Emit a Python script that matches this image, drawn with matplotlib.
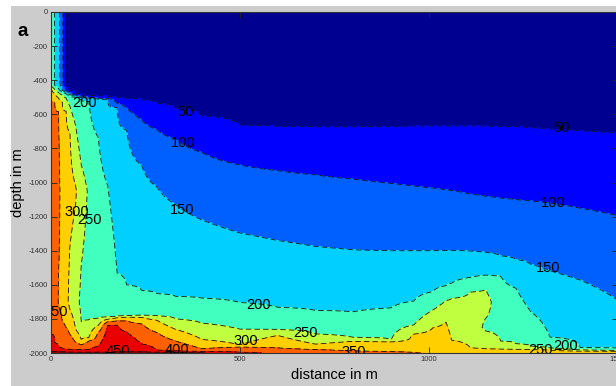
import numpy as np
import matplotlib
matplotlib.use("Agg")
import matplotlib.pyplot as plt
from matplotlib.patches import Rectangle

nan = float("nan")

# ---- data (depths in m, positive downward) ----
distance_m = [0, 10, 20, 30, 40, 50, 65, 80, 100, 125, 150, 175, 200, 240, 280, 330, 400,
              500, 600, 700, 800, 900, 960, 1010, 1045, 1060, 1110, 1150, 1190, 1230, 1270,
              1320, 1400, 1500]

surface_value = [225, 198, 165, 110, 48, 20, 10, 10, 10, 10, 10, 10, 10, 10, 10, 10, 10,
                 10, 10, 10, 10, 10, 10, 10, 10, 10, 10, 10, 10, 10, 10, 10, 10, 10]
value_at_420 = [225, 198, 168, 110, 48, 20, nan, nan, nan, nan, nan, nan, nan, nan, nan, nan, nan,
                nan, nan, nan, nan, nan, nan, nan, nan, nan, nan, nan, nan, nan, nan, nan, nan, nan]
value_at_1050 = [nan, nan, 365, 325, 325, 315, 305, 270, 245, nan, nan, nan, nan, nan, nan, nan, nan,
                 nan, nan, nan, nan, nan, nan, nan, nan, nan, nan, nan, nan, nan, nan, nan, nan, nan]
value_at_1700 = [nan, nan, 345, 335, 318, 285, 268, 240, 230, nan, nan, nan, nan, nan, nan, nan, nan,
                 nan, nan, nan, nan, nan, nan, nan, nan, nan, nan, 268, nan, nan, nan, nan, nan, nan]
value_at_1850 = [nan, nan, nan, nan, nan, nan, nan, nan, nan, nan, nan, nan, nan, nan, nan, nan, nan,
                 nan, nan, nan, nan, nan, nan, nan, nan, nan, nan, 240, nan, nan, nan, nan, nan, nan]

iso_depth_50 = [nan, nan, nan, nan, 440, 462, 478, 485, 490, 492, 495, 500, 505, 515, 535, 563, 608,
                663, 670, 673, 674, 670, 669, 668, 668, 668, 668, 669, 671, 673, 678, 686, 697, 712]
iso_depth_100 = [nan, nan, nan, nan, 460, 472, 487, 493, 500, 505, 508, 535, 565, 635, 690, 745, 825,
                 897, 930, 955, 980, 1005, 1020, 1032, 1042, 1047, 1068, 1080, 1091, 1100, 1108,
                 1120, 1150, 1195]
iso_depth_150 = [nan, nan, nan, 459, 475, 485, 497, 502, 505, 510, 514, 560, 692, 900, 1026, 1130,
                 1220, 1296, 1340, 1375, 1395, 1400, 1400, 1400, 1399, 1398, 1402, 1410, 1430, 1450,
                 1480, 1518, 1572, 1690]
iso_depth_200 = [nan, 432, 450, 468, 478, 488, 500, 515, 525, 735, 1018, 1531, 1600, 1633, 1652,
                 1668, 1678, 1704, 1732, 1750, 1758, 1735, 1695, 1640, 1605, 1590, 1556, 1543, 1550,
                 1620, 1760, 1907, 1968, 1972]
iso_depth_250 = [435, 455, 472, 488, 505, 553, 665, 1815, 1805, 1797, 1789, 1785, 1780, 1778, 1782,
                 1800, 1825, 1860, 1862, 1888, 1908, 1920, 1835, 1748, 1692, 1680, 1643, 1630, 1930,
                 1946, 1960, 1970, 1982, 1985]
iso_depth_300 = [450, 480, 505, 530, 582, 705, 1860, 1920, 1910, 1838, 1802, 1793, 1790, 1791, 1808,
                 1862, 1921, 1952, 1897, 1948, 1931, 1935, 1889, 1853, 1820, 1925, 1970, 1975, 1977,
                 1978, 1980, 1981, 1988, 1990]
iso_depth_350 = [495, 530, 585, 1815, 1850, 1890, 1937, 1952, 1930, 1880, 1816, 1812, 1812, 1830, 1880,
                 1930, 1975, 1965, 1970, 1980, 1988, 1992, 1997, nan, nan, nan, nan, nan, nan, nan,
                 nan, nan, nan, nan]
iso_depth_400 = [1890, 1940, 1965, 1975, 1978, 1979, 1980, 1980, 1980, 1960, 1838, 1836, 1878, 1947,
                 1983, 1988, 1991, 1995, nan, nan, nan, nan, nan, nan, nan, nan, nan, nan, nan, nan,
                 nan, nan, nan, nan]
iso_depth_450 = [1990, 1991, 1992, 1993, 1994, 1994, 1995, 1995, 1995, 1995, 1995, 1993, 1993, 1994,
                 1995, 1996, 1998, nan, nan, nan, nan, nan, nan, nan, nan, nan, nan, nan, nan, nan,
                 nan, nan, nan, nan]
bottom_value = [470, 468, 466, 464, 462, 460, 460, 460, 460, 460, 460, 462, 462, 460, 458, 456, 452,
                420, 385, 378, 368, 362, 355, 340, 345, 335, 330, 325, 322, 318, 315, 312, 312, 312]

contour_levels = [0, 50, 100, 150, 200, 250, 300, 350, 400, 450, 500]

# contour labels as they appear in the reference (text centre, m / depth m)
label_level = [200, 50, 100, 150, 300, 250, 350, 200, 250, 300, 350, 450, 400, 50, 100, 150, 250, 200]
label_x = [90, 355, 349, 347, 69, 103, 12, 548, 672, 516, 802, 177, 333, 1352, 1328, 1315, 1294, 1360]
label_depth = [534, 587, 768, 1161, 1173, 1220, 1760, 1718, 1883, 1930, 1994, 1988, 1982, 680, 1120,
               1501, 1982, 1960]

# ---- style ----
band_colors = ['#000090', '#0000ff', '#0060ff', '#00cfff', '#40ffbf',
               '#bfff40', '#ffcf00', '#ff6000', '#ea0000', '#900000']

plt.rcParams['font.family'] = ['Liberation Sans', 'DejaVu Sans']
plt.rcParams['axes.unicode_minus'] = False
plt.rcParams['lines.scale_dashes'] = False

# ---- build the field table for contourf from the readings ----
iso_depths = {50: iso_depth_50, 100: iso_depth_100, 150: iso_depth_150, 200: iso_depth_200,
              250: iso_depth_250, 300: iso_depth_300, 350: iso_depth_350, 400: iso_depth_400,
              450: iso_depth_450}
anchors = {0: surface_value, 420: value_at_420, 1050: value_at_1050, 1700: value_at_1700,
           1850: value_at_1850, 2000: bottom_value}

depth_grid = np.linspace(0, 2000, 801)
Z = np.empty((depth_grid.size, len(distance_m)))
for j in range(len(distance_m)):
    pts = []
    for d, arr in anchors.items():
        if not np.isnan(arr[j]):
            pts.append((float(d), float(arr[j])))
    for lev, arr in iso_depths.items():
        if not np.isnan(arr[j]):
            pts.append((float(arr[j]), float(lev)))
    pts.sort()
    dp, vp = zip(*pts)
    Z[:, j] = np.interp(depth_grid, dp, vp)

X = np.array(distance_m, dtype=float)
Y = -depth_grid

W, H = 616, 386
fig = plt.figure(figsize=(W / 100, H / 100), dpi=100, facecolor='white')
fig.patches.append(Rectangle((11 / W, 0), 1, (H - 6) / H, transform=fig.transFigure,
                             facecolor='#cccccc', edgecolor='none', zorder=-10))

ax = fig.add_axes([51 / W, (H - 353) / H, 567 / W, 341 / H])
ax.contourf(X, Y, Z, levels=contour_levels, colors=band_colors)
line_levels = contour_levels[1:-1]
lines = ax.contour(X, Y, Z, levels=line_levels, colors='#151515', linewidths=0.6)
lines.set_linestyle((0, (4.0, 2.2)))

ax.set_xlim(0, 1500)
ax.set_ylim(-2000, 0)

label_family = ['Liberation Sans Narrow', 'Liberation Sans', 'DejaVu Sans']
for lev, lx, ld in zip(label_level, label_x, label_depth):
    ax.text(lx, -ld, f'{lev}', ha='center', va='center', fontsize=10.5,
            family=label_family, color='k', clip_on=True, zorder=5)

ax.set_xticks([0, 500, 1000, 1500])
ax.set_yticks(np.arange(-2000, 1, 200))
ax.tick_params(direction='in', length=4, width=0.6, top=True, right=True,
               labelsize=5.5, labelcolor='#333333', color='#222222', pad=2.2)
for s in ax.spines.values():
    s.set_linewidth(0.8)
    s.set_color('#333333')

ax.set_xlabel('distance in m', fontsize=10.5)
ax.xaxis.set_label_coords(0.4995, -0.044)
ax.set_ylabel('depth in m', fontsize=10.5)
ax.yaxis.set_label_coords(-0.046, 0.5)

fig.text(22.5 / W, 1 - 31 / H, 'a', fontsize=13.5, fontweight='bold', ha='center', va='center')

fig.savefig('out.png', dpi=100, facecolor=fig.get_facecolor())
